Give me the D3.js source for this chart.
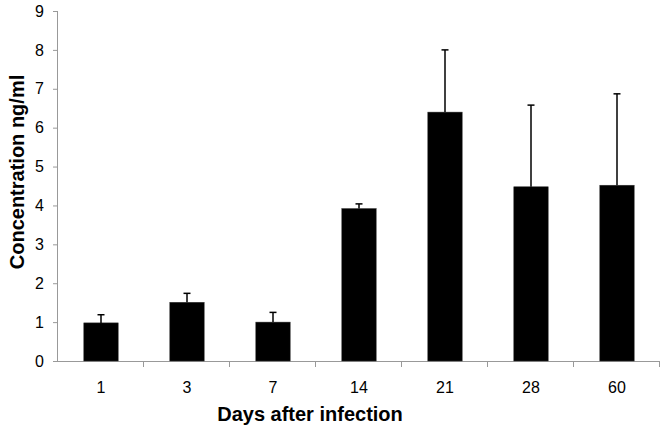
<!DOCTYPE html>
<html><head><meta charset="utf-8">
<script src="https://cdn.jsdelivr.net/npm/d3@7"></script>
<style>body{margin:0;background:#fff}svg{display:block}</style>
</head><body>
<svg id="c" width="664" height="430"></svg>
<script>
const categories = ["1","3","7","14","21","28","60"];
const means = [0.98, 1.51, 1.0, 3.92, 6.4, 4.48, 4.52];
const errors = [0.21, 0.23, 0.25, 0.12, 1.6, 2.1, 2.35];
const yTicks = [0,1,2,3,4,5,6,7,8,9];

const svg = d3.select("#c");
const x0 = 58, x1 = 660, yTop = 11, yBot = 361;
const x = d3.scaleBand().domain(categories).range([x0, x1]).paddingInner(0.6).paddingOuter(0.3);
const y = d3.scaleLinear().domain([0, 9]).range([yBot, yTop]);
const axisColor = "#999";
const font = "'Liberation Sans', Arial, sans-serif";

// Y axis
const ya = svg.append("g").attr("transform", `translate(${x0},0)`)
  .call(d3.axisLeft(y).tickValues(yTicks).tickSize(5).tickPadding(9).tickFormat(d3.format("d")));
ya.select(".domain").attr("stroke", axisColor).attr("d", `M-0.5,${yBot}V${yTop}`);
ya.selectAll(".tick line").attr("stroke", axisColor);
ya.selectAll(".tick text").attr("font-family", font).attr("font-size", 16).attr("fill", "#000");

// X axis
const xa = svg.append("g").attr("transform", `translate(0,${yBot})`);
xa.append("line").attr("x1", x0).attr("x2", x1).attr("y1", 0.5).attr("y2", 0.5).attr("stroke", axisColor);
const bounds = d3.range(categories.length + 1).map(i => x0 + i * (x1 - x0) / categories.length);
xa.selectAll("line.tk").data(bounds.slice(1)).join("line").attr("class","tk")
  .attr("x1", d => d - 0.5).attr("x2", d => d - 0.5).attr("y1", 0).attr("y2", 6).attr("stroke", axisColor);
xa.selectAll("text").data(categories).join("text")
  .attr("x", d => x(d) + x.bandwidth() / 2).attr("y", 32)
  .attr("text-anchor", "middle").attr("font-family", font).attr("font-size", 16).attr("fill", "#000")
  .text(d => d);

// Bars
svg.append("g").selectAll("rect").data(categories).join("rect")
  .attr("x", d => x(d)).attr("width", x.bandwidth())
  .attr("y", (d, i) => y(means[i])).attr("height", (d, i) => yBot - y(means[i]))
  .attr("fill", "#000").attr("stroke", "#333").attr("stroke-width", 0.5);

// Error bars (upper only)
const eg = svg.append("g").attr("stroke", "#000").attr("stroke-width", 1.5);
categories.forEach((c, i) => {
  const cx = x(c) + x.bandwidth() / 2;
  eg.append("line").attr("x1", cx).attr("x2", cx).attr("y1", y(means[i])).attr("y2", y(means[i] + errors[i]));
  eg.append("line").attr("x1", cx - 3.5).attr("x2", cx + 3.5).attr("y1", y(means[i] + errors[i])).attr("y2", y(means[i] + errors[i]));
});

// Titles
svg.append("text").attr("x", 310).attr("y", 421).attr("text-anchor", "middle")
  .attr("font-family", font).attr("font-weight", "bold").attr("font-size", 20).text("Days after infection");
svg.append("text").attr("transform", "translate(24,172) rotate(-90)").attr("text-anchor", "middle")
  .attr("font-family", font).attr("font-weight", "bold").attr("font-size", 20).text("Concentration ng/ml");
</script>
</body></html>
